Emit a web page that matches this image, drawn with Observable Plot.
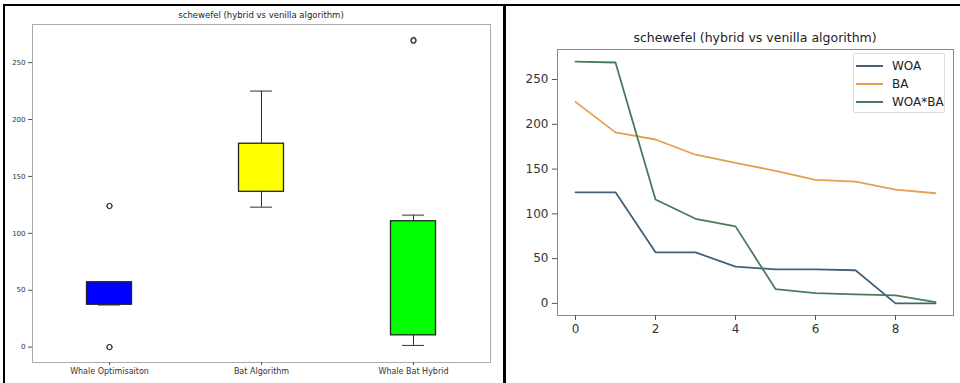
<!DOCTYPE html>
<html><head><meta charset="utf-8">
<script src="https://cdn.jsdelivr.net/npm/d3@7"></script>
<script src="https://cdn.jsdelivr.net/npm/@observablehq/plot@0.6"></script>
<style>
html,body{margin:0;padding:0;background:#fff;}
#root{position:relative;width:960px;height:383px;overflow:hidden;background:#fff;font-family:"DejaVu Sans",sans-serif;}
.abs{position:absolute;}
.ttl{position:absolute;white-space:nowrap;transform:translate(-50%,-50%);color:#222;}
.leg{position:absolute;background:#fff;border:1px solid #ddd;border-radius:2px;box-sizing:border-box;}
.leg .row{position:absolute;left:0;height:18px;display:flex;align-items:center;font-size:12px;color:#222;}
.leg .sw{display:inline-block;width:27px;height:2px;margin-left:2px;margin-right:9px;}
</style></head><body>
<div id="root"></div>
<script>
const categories = ["Whale Optimisaiton", "Bat Algorithm", "Whale Bat Hybrid"];
const iterations = [0, 1, 2, 3, 4, 5, 6, 7, 8, 9];
const woa = [124, 124, 57, 57, 41, 38, 38, 37, 0, 0];
const ba = [225, 191, 183, 166, 157, 148, 138, 136, 127, 123];
const hybrid = [270, 269, 116, 94.5, 86, 16, 11.5, 10, 9, 1.5];
const seriesNames = ["WOA", "BA", "WOA*BA"];
const boxFill = ["#0000ff", "#ffff00", "#00ff00"];
const lineColors = ["#44607a", "#e3a04f", "#487c58"];
const yTicks = [0, 50, 100, 150, 200, 250];
const xTicks = [0, 2, 4, 6, 8];
const title = "schewefel (hybrid vs venilla algorithm)";

const root = document.getElementById("root");
const series = [woa, ba, hybrid];

// box statistics (matplotlib-style, 1.5 IQR whiskers)
const boxData = categories.map((c, i) => {
  const v = series[i].slice().sort(d3.ascending);
  const q1 = d3.quantile(v, 0.25), q3 = d3.quantile(v, 0.75), iqr = q3 - q1;
  const lo = d3.min(v.filter(d => d >= q1 - 1.5 * iqr));
  const hi = d3.max(v.filter(d => d <= q3 + 1.5 * iqr));
  return {cat: c, q1, q3, lo, hi, out: v.filter(d => d < lo || d > hi), fill: boxFill[i]};
});
const outliers = boxData.flatMap(b => b.out.map(v => ({cat: b.cat, v})));

const left = Plot.plot({
  width: 505, height: 383,
  marginLeft: 32, marginRight: 15, marginTop: 24, marginBottom: 21,
  x: {domain: categories, padding: 0},
  y: {domain: [-13.5, 283.5]},
  color: {type: "identity"},
  style: {fontFamily: "DejaVu Sans", background: "transparent", color: "#333"},
  marks: [
    Plot.ruleX(boxData, {x: "cat", y1: "lo", y2: "q1", stroke: "#333"}),
    Plot.ruleX(boxData, {x: "cat", y1: "q3", y2: "hi", stroke: "#333"}),
    Plot.tickY(boxData, {x: "cat", y: "lo", insetLeft: 65, insetRight: 65, stroke: "#333"}),
    Plot.tickY(boxData, {x: "cat", y: "hi", insetLeft: 65, insetRight: 65, stroke: "#333"}),
    Plot.barY(boxData, {x: "cat", y1: "q1", y2: "q3", fill: "fill", stroke: "#222", strokeWidth: 1.3, insetLeft: 53.5, insetRight: 53.5}),
    Plot.dot(outliers, {x: "cat", y: "v", r: 2.6, stroke: "#333", fill: "none", strokeWidth: 1}),
    Plot.frame({stroke: "#aaa"}),
    Plot.axisY({ticks: yTicks, tickSize: 4, tickPadding: 3, fontSize: 7, label: null, stroke: "#555"}),
    Plot.axisX({tickSize: 3, tickPadding: 3, fontSize: 8, label: null, stroke: "#555"})
  ]
});
left.style.position = "absolute"; left.style.left = "0px"; left.style.top = "0px";
root.appendChild(left);

const lineData = seriesNames.flatMap((s, k) => series[k].map((v, i) => ({s, i: iterations[i], v})));
const right = Plot.plot({
  width: 455, height: 383,
  marginLeft: 52, marginRight: 7, marginTop: 49, marginBottom: 68,
  x: {domain: [-0.45, 9.45]},
  y: {domain: [-13.5, 283.5]},
  color: {domain: seriesNames, range: lineColors},
  style: {fontFamily: "DejaVu Sans", background: "transparent", color: "#333"},
  marks: [
    Plot.lineY(lineData, {x: "i", y: "v", stroke: "s", strokeWidth: 1.8}),
    Plot.frame({stroke: "#888"}),
    Plot.axisY({ticks: yTicks, tickSize: 5, tickPadding: 4, fontSize: 12, label: null, stroke: "#555"}),
    Plot.axisX({ticks: xTicks, tickSize: 5, tickPadding: 4, fontSize: 12, label: null, stroke: "#555"})
  ]
});
right.style.position = "absolute"; right.style.left = "505px"; right.style.top = "0px";
root.appendChild(right);

// titles
function addTitle(x, y, size) {
  const d = document.createElement("div");
  d.className = "ttl"; d.textContent = title;
  d.style.left = x + "px"; d.style.top = y + "px"; d.style.fontSize = size + "px";
  root.appendChild(d);
}
addTitle(261, 15, 8.5);
addTitle(755, 37, 12.5);

// legend
const leg = document.createElement("div");
leg.className = "leg";
Object.assign(leg.style, {left: "853px", top: "53px", width: "92px", height: "60px"});
seriesNames.forEach((s, k) => {
  const r = document.createElement("div");
  r.className = "row"; r.style.top = (3 + k * 18) + "px";
  const sw = document.createElement("span"); sw.className = "sw"; sw.style.background = lineColors[k];
  const t = document.createElement("span"); t.textContent = s;
  r.appendChild(sw); r.appendChild(t); leg.appendChild(r);
});
root.appendChild(leg);

// panel borders
function bar(l, t, w, h) {
  const d = document.createElement("div");
  d.className = "abs";
  Object.assign(d.style, {left: l + "px", top: t + "px", width: w + "px", height: h + "px", background: "#000"});
  root.appendChild(d);
}
bar(3, 4, 957, 2);
bar(3, 4, 2, 379);
bar(503, 4, 3, 379);
</script>
</body></html>
